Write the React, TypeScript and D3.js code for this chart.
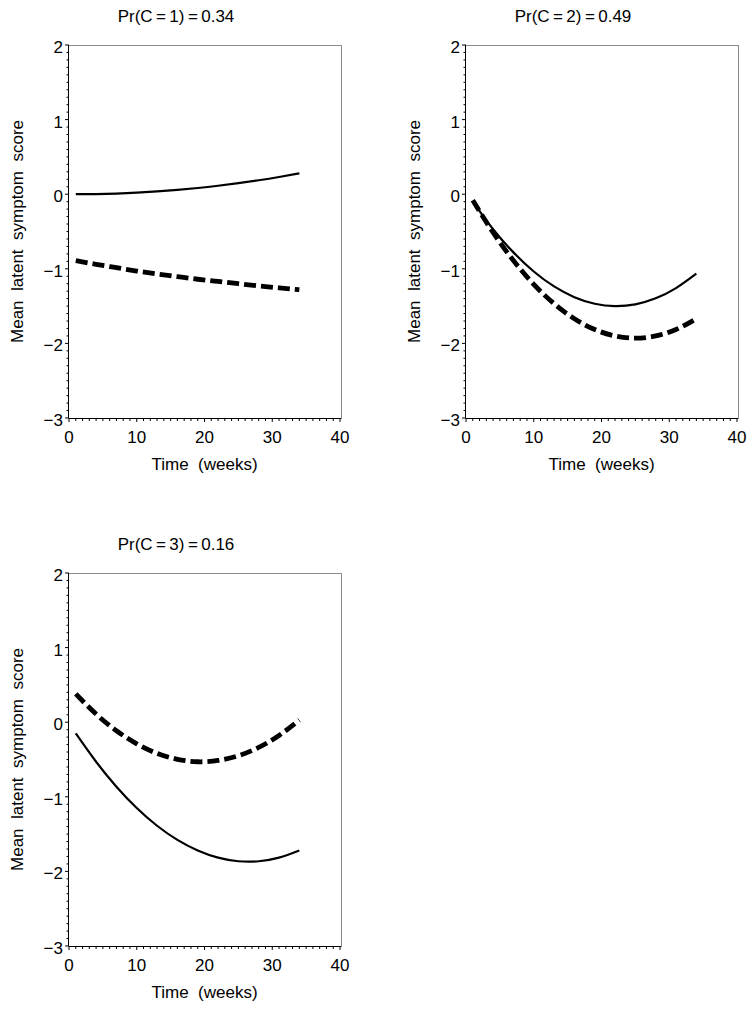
import React from 'react';
import * as d3 from 'd3';

// ---- data ----
const weeks = [1, 4, 7, 10, 13, 16, 19, 22, 25, 28, 31, 34];

const class1Solid = [0.0, 0.002, 0.009, 0.021, 0.037, 0.058, 0.083, 0.113, 0.148, 0.187, 0.231, 0.28];
const class1Dashed = [-0.89, -0.94, -0.985, -1.03, -1.07, -1.105, -1.14, -1.17, -1.2, -1.23, -1.255, -1.28];

const class2Solid = [-0.1, -0.47, -0.78, -1.036, -1.236, -1.38, -1.468, -1.5, -1.476, -1.395, -1.259, -1.066];
const class2Dashed = [-0.08, -0.514, -0.89, -1.208, -1.468, -1.67, -1.814, -1.9, -1.93, -1.9, -1.814, -1.67];

const class3Solid = [-0.15, -0.53, -0.864, -1.15, -1.388, -1.578, -1.72, -1.816, -1.864, -1.864, -1.816, -1.72];
const class3Dashed = [0.38, 0.109, -0.114, -0.29, -0.418, -0.497, -0.53, -0.513, -0.45, -0.338, -0.178, 0.029];

const titles = ['Pr(C\u2009=\u20091)\u2009=\u20090.34', 'Pr(C\u2009=\u20092)\u2009=\u20090.49', 'Pr(C\u2009=\u20093)\u2009=\u20090.16'];
const xTicks = [0, 10, 20, 30, 40];
const yTicks = [-3, -2, -1, 0, 1, 2];
const xDomain = [0, 40];
const yDomain = [-3, 2];
const xLabel = 'Time  (weeks)';
const yLabel = 'Mean  latent  symptom  score';

const seriesByPanel = [
  [class1Solid, class1Dashed],
  [class2Solid, class2Dashed],
  [class3Solid, class3Dashed],
];

// ---- layout ----
const layout = [
  { left: 69, top: 45 },
  { left: 466, top: 45 },
  { left: 69, top: 573 },
];
const plotW = 271;
const plotH = 373;
const FONT = '"Liberation Sans", Arial, Helvetica, sans-serif';

const fmt = (v: number) => (v < 0 ? '\u2212' + Math.abs(v) : String(v));

function Panel({ idx }: { idx: number }) {
  const { left, top } = layout[idx];
  const x = d3.scaleLinear().domain(xDomain).range([left, left + plotW]);
  const y = d3.scaleLinear().domain(yDomain).range([top + plotH, top]);
  const bottom = top + plotH;
  const right = left + plotW + 1.5;

  const line = d3
    .line<number>()
    .x((_, i) => x(weeks[i]))
    .y((d) => y(d))
    .curve(d3.curveNatural);

  const [solid, dashed] = seriesByPanel[idx];

  const xMinor = d3.range(xDomain[0], xDomain[1] + 0.001, 1);
  const yMinor = d3.range(0, 51).map((k) => yDomain[0] + k * 0.1);

  return (
    <g>
      <text
        x={left + 107}
        y={top - 23}
        textAnchor="middle"
        fontSize={17}
        fontFamily={FONT}
        fill="#000"
      >
        {titles[idx]}
      </text>
      {/* frame */}
      <line x1={left} x2={right} y1={top + 0.5} y2={top + 0.5} stroke="#8a8a8a" strokeWidth={1} />
      <line x1={right} x2={right} y1={top} y2={bottom} stroke="#8a8a8a" strokeWidth={1} />
      <line x1={left - 0.5} x2={left - 0.5} y1={top} y2={bottom} stroke="#000" strokeWidth={1} />
      <line x1={left} x2={right} y1={bottom + 0.5} y2={bottom + 0.5} stroke="#000" strokeWidth={1} />
      {/* x minor ticks */}
      {xMinor.map((t) => (
        <line
          key={'xm' + t}
          x1={x(t)}
          x2={x(t)}
          y1={bottom}
          y2={bottom + (t % 10 === 0 ? 4 : 3)}
          stroke="#000"
          strokeWidth={1}
        />
      ))}
      {/* y minor ticks */}
      {yMinor.map((v, k) => (
        <line
          key={'ym' + k}
          x1={left - (k % 10 === 0 ? 4 : 2.5)}
          x2={left}
          y1={y(v)}
          y2={y(v)}
          stroke="#000"
          strokeWidth={1}
        />
      ))}
      {xTicks.map((t) => (
        <text
          key={'xt' + t}
          x={x(t)}
          y={bottom + 25}
          textAnchor="middle"
          fontSize={17}
          fontFamily={FONT}
          fill="#000"
        >
          {fmt(t)}
        </text>
      ))}
      {yTicks.map((v) => (
        <text
          key={'yt' + v}
          x={left - 6}
          y={y(v) + 8}
          textAnchor="end"
          fontSize={17}
          fontFamily={FONT}
          fill="#000"
        >
          {fmt(v)}
        </text>
      ))}
      <text
        x={left + plotW / 2}
        y={bottom + 52}
        textAnchor="middle"
        fontSize={17}
        fontFamily={FONT}
        fill="#000"
        style={{ whiteSpace: 'pre' }}
      >
        {xLabel}
      </text>
      <text
        transform={`translate(${left - 46},${top + plotH / 2}) rotate(-90)`}
        textAnchor="middle"
        fontSize={17}
        fontFamily={FONT}
        fill="#000"
        style={{ whiteSpace: 'pre' }}
      >
        {yLabel}
      </text>
      <path d={line(solid) || ''} fill="none" stroke="#000" strokeWidth={2.2} />
      <path
        d={line(dashed) || ''}
        fill="none"
        stroke="#000"
        strokeWidth={4.8}
        strokeDasharray="12 5"
      />
    </g>
  );
}

export default function App() {
  return (
    <svg
      width={755}
      height={1012}
      style={{ position: 'absolute', left: 0, top: 0, background: '#fff' }}
    >
      <rect x={0} y={0} width={755} height={1012} fill="#fff" />
      {[0, 1, 2].map((i) => (
        <Panel key={i} idx={i} />
      ))}
    </svg>
  );
}
